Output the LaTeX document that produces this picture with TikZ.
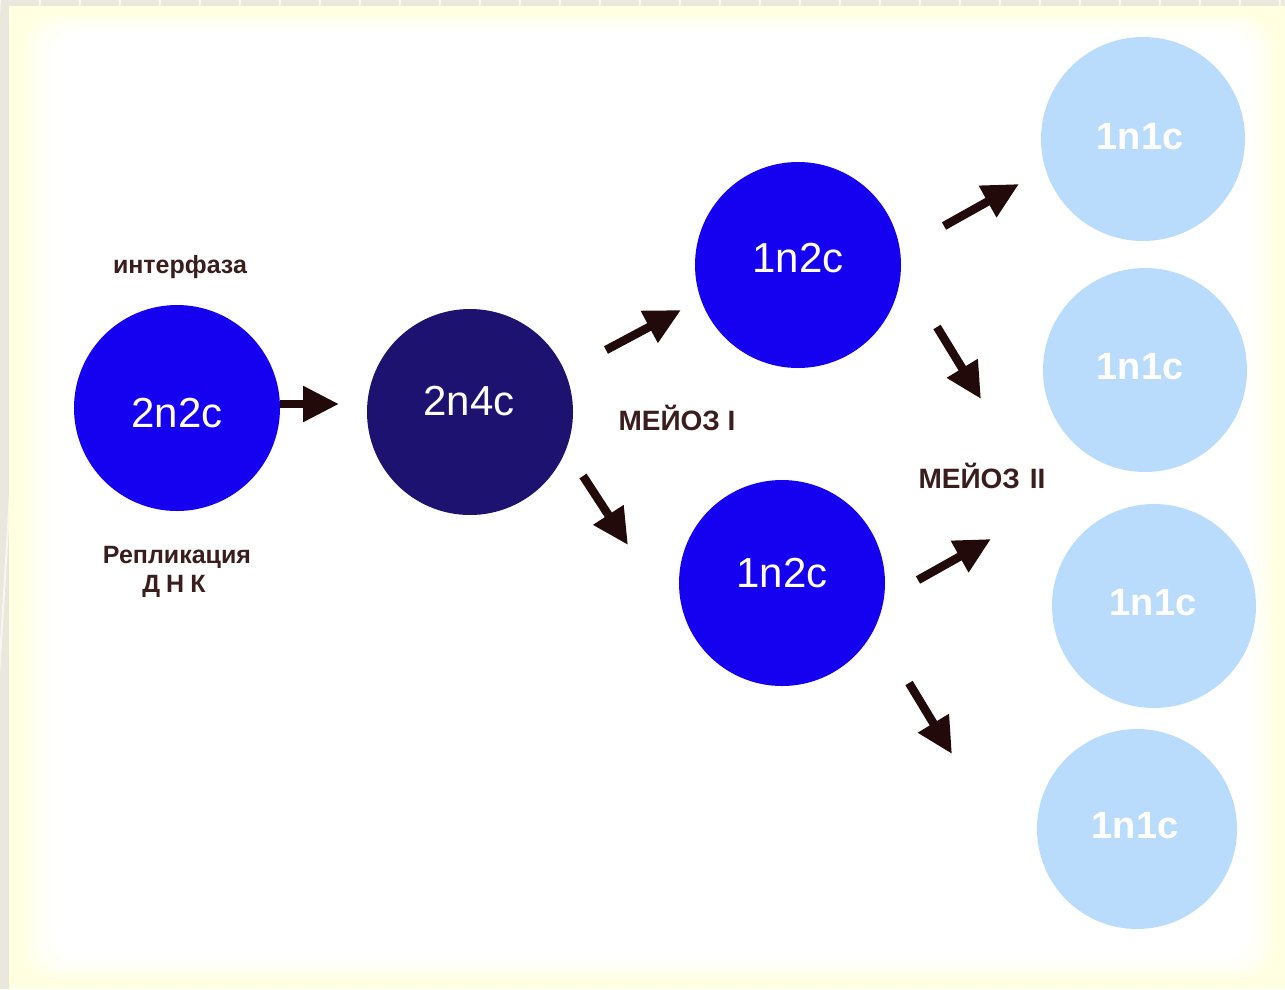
\documentclass[tikz,border=0pt]{standalone}
\usepackage{fontspec}
\setmainfont{Liberation Sans}
\usetikzlibrary{arrows.meta}
\definecolor{frame}{RGB}{234,232,220}
\definecolor{cream}{RGB}{255,255,226}
\definecolor{cellblue}{RGB}{22,0,240}
\definecolor{celldark}{RGB}{30,18,112}
\definecolor{celllight}{RGB}{186,220,252}
\definecolor{ink}{RGB}{34,10,10}
\definecolor{labelink}{RGB}{58,30,30}
\begin{document}
\begin{tikzpicture}[x=1pt,y=-1pt,
  cell/.style={circle,inner sep=0pt,minimum size=206pt},
  celltext/.style={text=white,font=\fontsize{42}{46}\selectfont},
  smalltext/.style={text=white,font=\bfseries\fontsize{38}{42}\selectfont},
  caption/.style={text=labelink,font=\bfseries\fontsize{25}{29}\selectfont,inner sep=0pt},
  phase/.style={text=labelink,font=\bfseries\fontsize{28}{31}\selectfont,inner sep=0pt},
  pointer/.style={draw=ink,line width=8.5pt,-{Triangle[length=36pt,width=34pt]}}]
\useasboundingbox (0,0) rectangle (1285,989);
% outer frame and the cream panel with its soft glow
\fill[frame] (0,0) rectangle (1285,989);
\foreach \k in {0,40,...,1400}
  \draw[white!60!frame,line width=2pt] (\k,0) -- (\k-60,989);
\fill[cream] (9,6) rectangle (1285,989);
\foreach \d/\o in {16/0.3,24/0.45,32/0.6,40/0.8,48/1}
  \fill[white,opacity=\o,rounded corners=30pt] (9+\d,6+\d*0.6) rectangle (1285-\d*0.8,989-\d*0.7);

% cells
\node[cell,fill=cellblue]  (a)  at (177,408) {};
\node[cell,fill=celldark]  (b)  at (470,412) {};
\node[cell,fill=cellblue]  (c1) at (798,265) {};
\node[cell,fill=cellblue]  (c2) at (782,583) {};
\node[cell,fill=celllight,minimum size=204pt] (d1) at (1143,139) {};
\node[cell,fill=celllight,minimum size=204pt] (d2) at (1145,370) {};
\node[cell,fill=celllight,minimum size=204pt] (d3) at (1154,606) {};
\node[cell,fill=celllight,minimum size=200pt] (d4) at (1137,829) {};

% cell contents
\node[celltext] (ta)  at (177,413) {2n2c};
\node[celltext] (tb)  at (469,401) {2n4c};
\node[celltext] (tc1) at (798,258) {1n2c};
\node[celltext] (tc2) at (782,573) {1n2c};
\node[smalltext] (td1) at (1140,137) {1n1c};
\node[smalltext] (td2) at (1140,367) {1n1c};
\node[smalltext] (td3) at (1153,603) {1n1c};
\node[smalltext] (td4) at (1135,826) {1n1c};

% captions
\node[caption] (l1) at (180,267) {интерфаза};
\node[caption] (l2) at (177,557) {Репликация};
\node[caption] (l3) at (174,586) {Д\hspace{6pt}Н\hspace{6pt}К};
\node[phase] (p1) at (677,418) {МЕЙОЗ I};
\node[phase] (p2) at (982,476) {МЕЙОЗ\hspace{10pt}II};

% arrow end points
\coordinate (s0) at (280,404); \coordinate (e0) at (339,404);
\coordinate (s1) at (606,350); \coordinate (e1) at (681,310);
\coordinate (s2) at (583,476); \coordinate (e2) at (628,545);
\coordinate (s3) at (944,226); \coordinate (e3) at (1019,184);
\coordinate (s4) at (937,327); \coordinate (e4) at (981,399);
\coordinate (s5) at (918,580); \coordinate (e5) at (991,539);
\coordinate (s6) at (909,683); \coordinate (e6) at (952,754);

\foreach \i in {0,...,6}
  \draw[pointer] (s\i) -- (e\i);
\end{tikzpicture}
\end{document}
